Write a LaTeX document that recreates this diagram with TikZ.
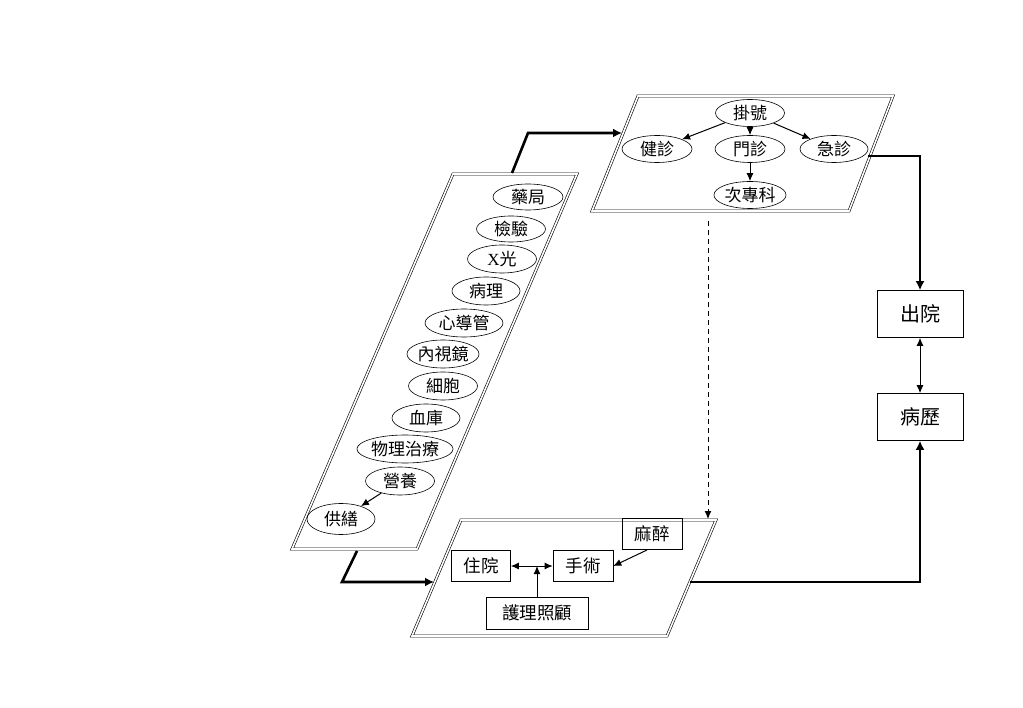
\documentclass[tikz,border=0pt]{standalone}
\usepackage{fontspec}
\setmainfont{Noto Sans CJK TC}
\newfontfamily\latinserif{Liberation Serif}
\usetikzlibrary{arrows.meta,shapes.geometric}
\tikzset{
  panel/.style={draw=black, double=white, double distance=1.6pt, line width=0.6pt},
  ell/.style={draw, ellipse, line width=0.6pt, inner sep=0pt, minimum height=27pt, font=\fontsize{17}{17}\selectfont},
  box/.style={draw, rectangle, line width=0.6pt, inner sep=0pt, minimum height=31pt, font=\fontsize{17.5}{17.5}\selectfont},
  bigbox/.style={draw, rectangle, line width=0.6pt, inner sep=0pt, minimum width=86pt, minimum height=47pt, font=\fontsize{20}{20}\selectfont},
  thinarrow/.style={line width=1pt, -{Latex[length=8pt,width=7pt]}},
  thinboth/.style={line width=1pt, {Latex[length=8pt,width=7pt]}-{Latex[length=8pt,width=7pt]}},
  thickarrow/.style={line width=2.6pt, -{Latex[length=9pt,width=9pt]}},
  dasharrow/.style={line width=1pt, dashed, dash pattern=on 5pt off 4pt, -{Latex[length=8pt,width=7pt]}}
}
\begin{document}
\begin{tikzpicture}[x=1pt,y=-1pt]
\useasboundingbox (0,0) rectangle (1023,708);
% panels
\draw[panel] (638,96) -- (893,96) -- (849,211) -- (592,211) -- cycle;
\draw[panel] (453,174) -- (577,174) -- (417,549) -- (292,549) -- cycle;
\draw[panel] (461,520) -- (716,520) -- (667,636) -- (412,636) -- cycle;
% top panel nodes
\node[ell, minimum width=69pt] (gh) at (750,113) {掛號};
\node[ell, minimum width=70pt] (jz) at (657,149) {健診};
\node[ell, minimum width=70pt] (mz) at (750,149) {門診};
\node[ell, minimum width=68pt] (jzh) at (834,149) {急診};
\node[ell, minimum width=70pt] (czk) at (750,195) {次專科};
\draw[thinarrow] (gh) -- (jz);
\draw[thinarrow] (gh) -- (mz);
\draw[thinarrow] (gh) -- (jzh);
\draw[thinarrow] (mz) -- (czk);
% left panel nodes
\node[ell, minimum width=70pt, minimum height=26pt] (yj) at (528,197) {藥局};
\node[ell, minimum width=69pt, minimum height=26pt] (jy) at (511,229) {檢驗};
\node[ell, minimum width=69pt, minimum height=28pt] (xg) at (502,259) {{\latinserif X}光};
\node[ell, minimum width=68pt, minimum height=28pt] (bl) at (486,291) {病理};
\node[ell, minimum width=78pt, minimum height=28pt] (xdg) at (464,323) {心導管};
\node[ell, minimum width=69pt, minimum height=28pt] (nsj) at (443,354) {內視鏡};
\node[ell, minimum width=69pt, minimum height=28pt] (xb) at (443,386) {細胞};
\node[ell, minimum width=68pt, minimum height=28pt] (xk) at (426,418) {血庫};
\node[ell, minimum width=95pt, minimum height=28pt] (wl) at (405,449) {物理治療};
\node[ell, minimum width=69pt, minimum height=28pt] (yy) at (400,481) {營養};
\node[ell, minimum width=68pt, minimum height=31pt] (gs) at (341,519) {供繕};
\draw[thinarrow] (yy) -- (gs);
% bottom panel nodes
\node[box, minimum width=59pt] (zy) at (481,566) {住院};
\node[box, minimum width=60pt] (ss) at (583,566) {手術};
\node[box, minimum width=60pt] (mc) at (652,534) {麻醉};
\node[box, minimum width=102pt, minimum height=32pt] (hl) at (537,613) {護理照顧};
\draw[thinboth] (zy) -- (ss);
\coordinate (mid) at (537,566);
\draw[thinarrow] (hl) -- (mid);
\coordinate (mcs) at (647,550);
\draw[thinarrow] (mcs) -- (ss.east);
% right boxes
\node[bigbox] (cy) at (920,314) {出院};
\node[bigbox] (bli) at (920,417) {病歷};
\draw[thinboth] (cy) -- (bli);
% thick connectors
\coordinate (lt) at (512,173);
\coordinate (tl) at (622,133);
\draw[thickarrow] (lt) -- (528,133) -- (tl);
\coordinate (lb) at (357,551);
\coordinate (bl2) at (434,582);
\draw[thickarrow] (lb) -- (342,582) -- (bl2);
\coordinate (tr) at (868,156);
\draw[thickarrow] (tr) -- (920,156) -- (cy.north);
\coordinate (br) at (690,582);
\draw[thickarrow] (br) -- (920,582) -- (bli.south);
% dashed
\coordinate (tb) at (708,221);
\coordinate (bt) at (708,519);
\draw[dasharrow] (tb) -- (bt);
\end{tikzpicture}
\end{document}
